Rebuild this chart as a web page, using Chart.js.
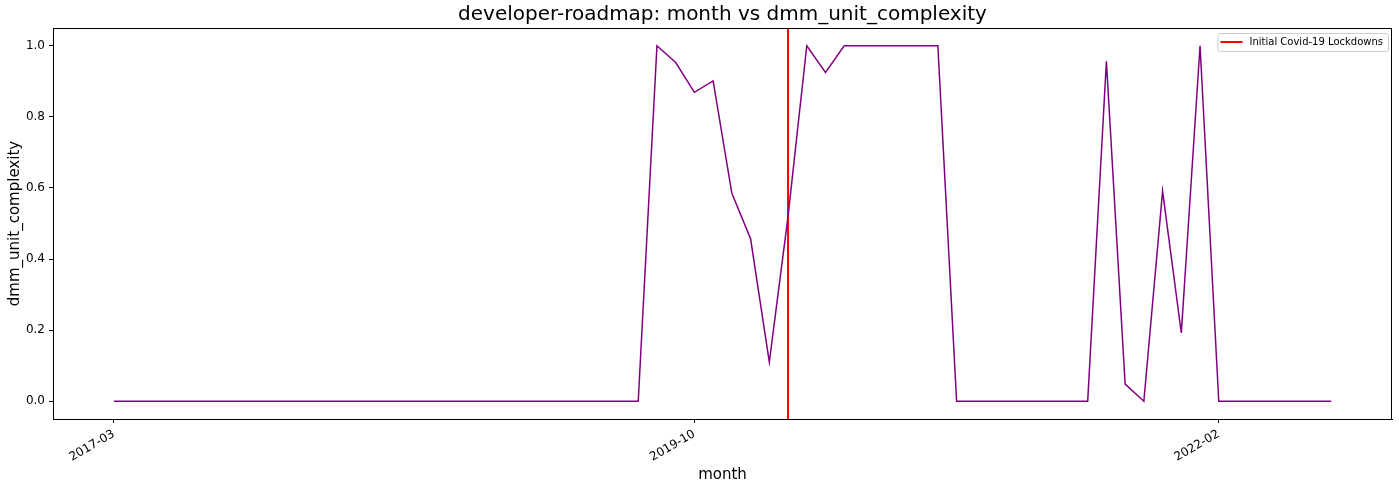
<!DOCTYPE html>
<html>
<head>
<meta charset="utf-8">
<script src="https://cdn.jsdelivr.net/npm/chart.js@4"></script>
<style>
  html, body { margin: 0; padding: 0; background: #ffffff; }
  #wrap { width: 1399px; height: 489px; }
</style>
</head>
<body>
<div id="wrap"><canvas id="c" width="1399" height="489"></canvas></div>
<script>
const months = [
  '2017-03','2017-04','2017-05','2017-06','2017-07','2017-08','2017-09','2017-10','2017-11','2017-12',
  '2018-01','2018-02','2018-03','2018-04','2018-05','2018-06','2018-07','2018-08','2018-09','2018-10','2018-11','2018-12',
  '2019-01','2019-02','2019-03','2019-04','2019-05','2019-06','2019-07','2019-08','2019-09','2019-10','2019-11','2019-12',
  '2020-01','2020-02','2020-03','2020-04','2020-05','2020-06','2020-07','2020-08','2020-09','2020-10','2020-11','2020-12',
  '2021-01','2021-02','2021-03','2021-04','2021-05','2021-06','2021-07','2021-08','2021-09','2021-10','2021-11','2021-12',
  '2022-01','2022-02','2022-03','2022-04','2022-05','2022-06','2022-07','2022-08'
];
const complexity = [
  0,0,0,0,0,0,0,0,0,0,
  0,0,0,0,0,0,0,0,0,0,0,0,
  0,0,0,0,0,0,0,1.0,0.953,0.869,0.901,0.585,
  0.457,0.110,0.52,1.0,0.925,1.0,1.0,1.0,1.0,1.0,1.0,0,
  0,0,0,0,0,0,0,0.956,0.048,0,0.591,0.192,
  1.0,0,0,0,0,0,0,0
];
const xTickLabels = ['2017-03','2019-10','2022-02'];
const yTickValues = [0.0, 0.2, 0.4, 0.6, 0.8, 1.0];
const covidMonth = '2020-03';
const covidLabel = 'Initial Covid-19 Lockdowns';
const yMin = -0.05, yMax = 1.05;

const n = months.length;
const xPad = (n - 1) * 0.05;
const covidIdx = months.indexOf(covidMonth);
const FONT = "'DejaVu Sans', sans-serif";

const framePlugin = {
  id: 'frame',
  afterLayout(chart) {
    const t = chart.titleBlock;
    if (t) {
      t.left = chart.chartArea.left;
      t.right = chart.chartArea.right;
      t.width = t.right - t.left;
    }
  },
  afterDatasetsDraw(chart) {
    const {ctx, chartArea: a} = chart;
    ctx.save();
    ctx.strokeStyle = '#000';
    ctx.lineWidth = 1;
    ctx.strokeRect(a.left + 0.5, a.top + 0.5, a.right - a.left - 1, a.bottom - a.top);
    ctx.restore();
  }
};

const legendPlugin = {
  id: 'boxLegend',
  afterDraw(chart) {
    const ds = chart.data.datasets[1];
    const {ctx, chartArea: a} = chart;
    ctx.save();
    ctx.font = '10px ' + FONT;
    const tw = ctx.measureText(ds.label).width;
    const w = tw + 37, h = 18;
    const x = a.right - 4 - w, y = a.top + 5;
    ctx.fillStyle = 'rgba(255,255,255,0.8)';
    ctx.strokeStyle = '#cccccc';
    ctx.lineWidth = 1;
    ctx.beginPath();
    ctx.roundRect(x + 0.5, y + 0.5, w, h, 2);
    ctx.fill();
    ctx.stroke();
    ctx.strokeStyle = ds.borderColor;
    ctx.lineWidth = 2;
    ctx.beginPath();
    ctx.moveTo(x + 3, y + 9);
    ctx.lineTo(x + 25, y + 9);
    ctx.stroke();
    ctx.fillStyle = '#000';
    ctx.textBaseline = 'middle';
    ctx.textAlign = 'left';
    ctx.fillText(ds.label, x + 32, y + 9.5);
    ctx.restore();
  }
};

new Chart(document.getElementById('c'), {
  type: 'line',
  data: {
    datasets: [
      {
        label: 'dmm_unit_complexity',
        data: complexity.map((v, i) => ({x: i, y: v})),
        borderColor: '#800080',
        borderWidth: 1.5,
        pointRadius: 0,
        tension: 0,
        fill: false
      },
      {
        label: covidLabel,
        data: [{x: covidIdx, y: yMin}, {x: covidIdx, y: yMax}],
        borderColor: '#ff0000',
        borderWidth: 2,
        pointRadius: 0,
        fill: false
      }
    ]
  },
  options: {
    responsive: false,
    animation: false,
    devicePixelRatio: 1,
    layout: { padding: { left: 0, top: 0, bottom: 0, right: 7 } },
    plugins: {
      legend: { display: false },
      tooltip: { enabled: false },
      title: {
        display: true,
        text: 'developer-roadmap: month vs dmm_unit_complexity',
        color: '#000',
        font: { family: FONT, size: 20, weight: 'normal', lineHeight: 1.2 },
        padding: { top: 3, bottom: 1 }
      }
    },
    scales: {
      x: {
        type: 'linear',
        min: -xPad,
        max: n - 1 + xPad,
        afterBuildTicks(scale) {
          scale.ticks = xTickLabels.map(l => ({ value: months.indexOf(l) }));
        },
        afterFit(scale) { scale.height = 70; },
        ticks: {
          autoSkip: false,
          minRotation: 30,
          maxRotation: 30,
          padding: 4,
          color: '#000',
          font: { family: FONT, size: 12 },
          callback: (v) => months[v]
        },
        grid: { drawOnChartArea: false, drawTicks: true, tickLength: 4, color: '#000' },
        border: { display: true, color: '#000' },
        title: {
          display: true,
          text: 'month',
          color: '#000',
          font: { family: FONT, size: 15, lineHeight: 1.2 },
          padding: { top: 5, bottom: 5 }
        }
      },
      y: {
        min: yMin,
        max: yMax,
        afterBuildTicks(scale) {
          scale.ticks = yTickValues.map(v => ({ value: v }));
        },
        afterFit(scale) { scale.width = 53; },
        ticks: {
          padding: 4,
          color: '#000',
          font: { family: FONT, size: 12 },
          callback: (v) => Number(v).toFixed(1)
        },
        grid: { drawOnChartArea: false, drawTicks: true, tickLength: 4, color: '#000' },
        border: { display: true, color: '#000' },
        title: {
          display: true,
          text: 'dmm_unit_complexity',
          color: '#000',
          font: { family: FONT, size: 15, lineHeight: 1.2 },
          padding: { top: 6, bottom: 6 }
        }
      }
    }
  },
  plugins: [framePlugin, legendPlugin]
});
</script>
</body>
</html>
